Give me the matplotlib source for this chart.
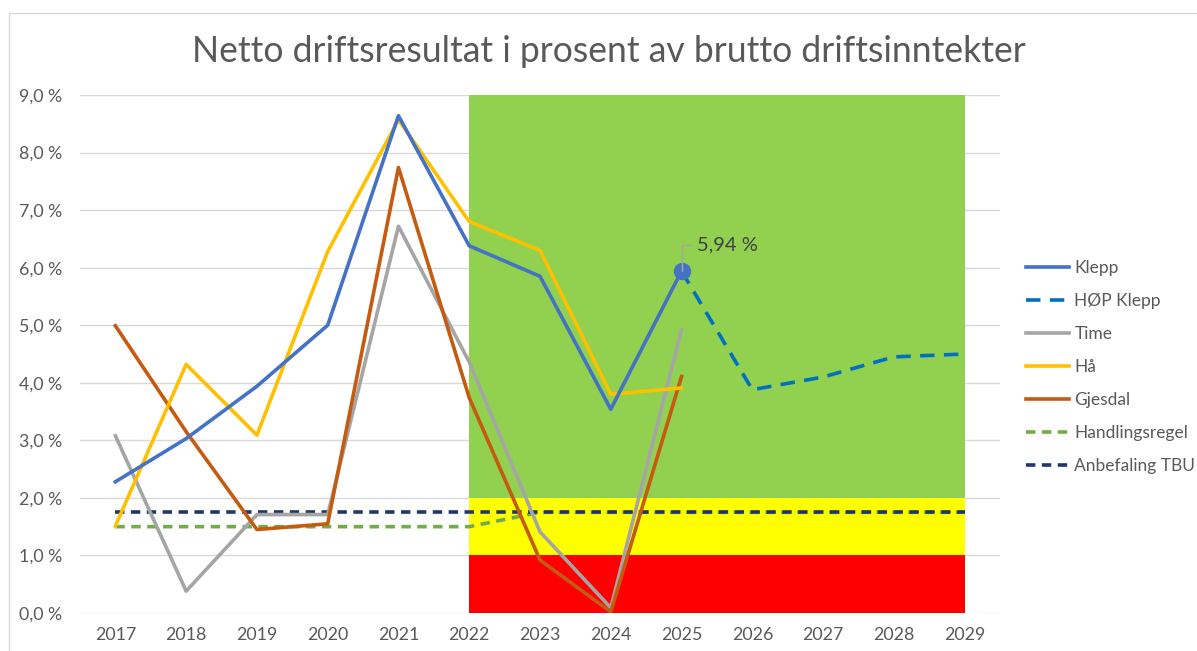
import numpy as np
import matplotlib.pyplot as plt
from matplotlib.patches import Rectangle

plt.rcParams['font.family'] = ['Lato', 'DejaVu Sans']

years = [2017, 2018, 2019, 2020, 2021, 2022, 2023, 2024, 2025, 2026, 2027, 2028, 2029]
hist_years = years[:9]
plan_years = years[8:]

klepp = [2.28, 3.03, 3.94, 5.00, 8.64, 6.38, 5.85, 3.54, 5.94]
hop_klepp = [5.94, 3.88, 4.10, 4.45, 4.50]
time_ = [3.08, 0.38, 1.71, 1.71, 6.72, 4.36, 1.41, 0.09, 4.92]
haa = [1.51, 4.32, 3.09, 6.28, 8.57, 6.80, 6.30, 3.80, 3.91]
gjesdal = [4.99, 3.15, 1.45, 1.55, 7.74, 3.74, 0.92, 0.02, 4.11]
handlingsregel = [1.5, 1.5, 1.5, 1.5, 1.5, 1.5, 1.75, 1.75, 1.75, 1.75, 1.75, 1.75, 1.75]
tbu = [1.75] * len(years)

# fargesoner bak linjene (2022-2029)
zone_x = [2022, 2029]
zones = [(0, 1, '#FF0000'), (1, 2, '#FFFF00'), (2, 9, '#92D050')]

fig = plt.figure(figsize=(11.97, 6.51), dpi=100)
ax = fig.add_axes([80/1197, 38/651, 920/1197, 518/651])

for lo, hi, c in zones:
    ax.fill_between(zone_x, lo, hi, color=c, lw=0, zorder=1)

lw = 2.6
ax.plot(years, handlingsregel, color='#70AD47', lw=lw, dashes=(2.6, 1.8), label='Handlingsregel', zorder=3)
ax.plot(years, tbu, color='#203864', lw=lw, dashes=(2.6, 1.8), label='Anbefaling TBU', zorder=4)
ax.plot(hist_years, time_, color='#A5A5A5', lw=lw, label='Time', zorder=5)
ax.plot(hist_years, gjesdal, color='#C55A11', lw=lw, label='Gjesdal', zorder=6)
ax.plot(hist_years, haa, color='#FFC000', lw=lw, label='Hå', zorder=7)
ax.plot(plan_years, hop_klepp, color='#0070C0', lw=lw, dashes=(4, 2.6), label='HØP Klepp', zorder=8)
ax.plot(hist_years, klepp, color='#4472C4', lw=lw, label='Klepp', zorder=9)
ax.plot(hist_years[-1], klepp[-1], 'o', color='#4472C4', ms=11.5, zorder=10)

ax.annotate(f'{klepp[-1]:.2f} %'.replace('.', ','), xy=(hist_years[-1], klepp[-1]),
            xytext=(11, 19), textcoords='offset points', ha='left', va='center',
            fontsize=14.5, color='#404040', zorder=11,
            arrowprops=dict(arrowstyle='-', color='#A6A6A6', lw=1,
                            connectionstyle='angle,angleA=0,angleB=90,rad=0',
                            shrinkA=2, shrinkB=0))

ax.set_xlim(2016.5, 2029.5)
ax.set_ylim(0, 9)
ax.set_xticks(years)
ax.set_yticks(np.arange(0, 10, 1))
ax.set_yticklabels([f'{v:.1f} %'.replace('.', ',') for v in range(10)])
ax.tick_params(axis='both', length=0, labelsize=12.8, labelcolor='#595959')
ax.tick_params(axis='y', pad=13)
ax.tick_params(axis='x', pad=10)
ax.grid(axis='y', color='#D9D9D9', lw=1, zorder=0)
ax.set_axisbelow(True)
for s in ax.spines.values():
    s.set_visible(False)

handles, labels = ax.get_legend_handles_labels()
order = ['Klepp', 'HØP Klepp', 'Time', 'Hå', 'Gjesdal', 'Handlingsregel', 'Anbefaling TBU']
hl = dict(zip(labels, handles))
ax.legend([hl[k] for k in order], order, loc='center left', bbox_to_anchor=(1.028, 0.475),
          frameon=False, fontsize=12.5, labelcolor='#595959', handlelength=2.5,
          handletextpad=0.3, labelspacing=0.98, borderpad=0, borderaxespad=0)

fig.text(609/1197, 1 - 51/651, 'Netto driftsresultat i prosent av brutto driftsinntekter',
         ha='center', va='center', fontsize=25.6, color='#595959')

fig.patches.append(Rectangle((9/1197, -0.1), 1.2, 1.1 - 13/651, transform=fig.transFigure,
                             fill=False, edgecolor='#D9D9D9', lw=1))

fig.savefig('out.png', dpi=100)
